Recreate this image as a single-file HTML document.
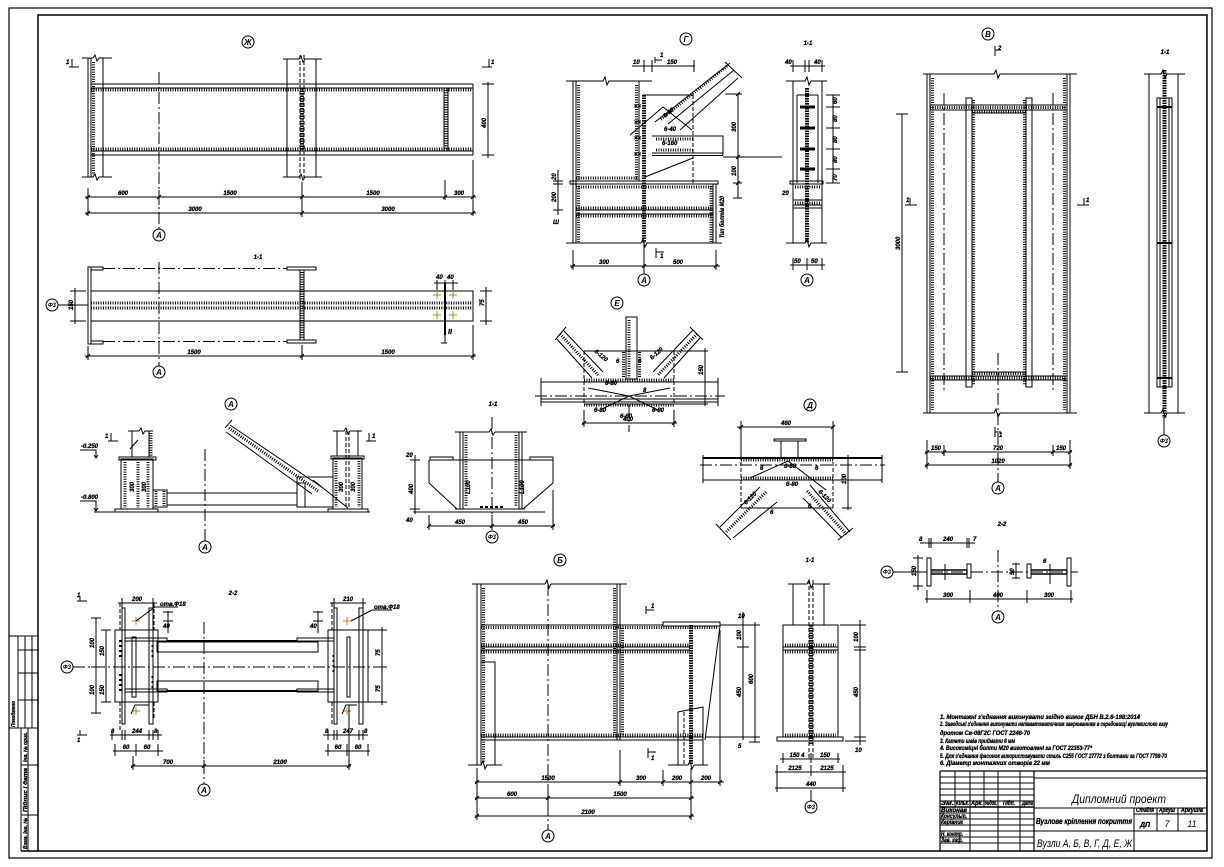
<!DOCTYPE html>
<html><head><meta charset="utf-8">
<style>
html,body{margin:0;padding:0;background:#fff}
body{width:1224px;height:867px;overflow:hidden}
svg{display:block}
text{font-family:"Liberation Sans","DejaVu Sans",sans-serif;font-weight:bold;font-style:italic;font-size:6px;fill:#000;stroke:#000;stroke-width:.3}
.c{font-size:8px;text-anchor:middle;stroke:none}
.m{text-anchor:middle}
.w{stroke-width:3;stroke-dasharray:1 1.4}
.hw{stroke-width:4;stroke-dasharray:1.6 .9}
.dd{stroke-dasharray:12 3 2 3}
.ds{stroke-dasharray:4 2}
.o{stroke:#c87d1e}
.n{font-weight:normal;stroke:none}
</style></head><body>
<svg width="1224" height="867" viewBox="0 0 1224 867" xmlns="http://www.w3.org/2000/svg" fill="none" stroke="#000" stroke-width="1">

<!-- FRAME -->
<rect x="9" y="8" width="1203" height="850" stroke-width="1.2"/>
<rect x="38" y="15" width="1169" height="836" stroke-width="1.5"/>
<path d="M21 851H38" stroke-width="1.5"/>

<!-- LEFT STAMP -->
<path d="M9 636H38M18 636V728M25 636V728M32 636V728M18 650H38M18 673H38M18 700H38M9 728H38M21 728V851M28 728V851M21 765H38M21 815H38"/>
<text transform="translate(15,727) rotate(-90)" textLength="26" lengthAdjust="spacingAndGlyphs" style="font-size:5px">Погоджено</text>
<text transform="translate(27,762) rotate(-90)" textLength="30" lengthAdjust="spacingAndGlyphs" style="font-size:5px">Інв. № ориг.</text>
<text transform="translate(27,812) rotate(-90)" textLength="44" lengthAdjust="spacingAndGlyphs" style="font-size:5px">Підпис і дата</text>
<text transform="translate(27,849) rotate(-90)" textLength="31" lengthAdjust="spacingAndGlyphs" style="font-size:5px">Взам. інв. №</text>

<!-- ===== VIEW Ж ===== -->
<circle cx="248" cy="42" r="6"/><text class="c" x="248" y="45">Ж</text>
<path d="M88 58V177M91 58V177M103 58V177M82 58H93l2-3 2 6 2-3H112M82 177H93l2-3 2 6 2-3H112"/>
<path class="w" d="M93.5 62V175"/>
<path d="M91 84H473M91 88H473M91 151H473M91 155H473M473 84V155"/>
<path class="w" d="M91 90H472M91 149H472"/>
<path d="M287 59V177M316 59V177M283 59H299l2-3 2 6 2-3H322M283 177H299l2-3 2 6 2-3H322"/>
<path class="ds" d="M300 55V181M304 55V181"/>
<path class="hw" d="M302 88V151"/>
<path d="M444 88V151M448 88V151"/>
<path class="w" d="M446 90V149"/>
<path d="M488 82V158M482 84H494M482 155H494"/>
<text transform="translate(486,128) rotate(-90)">400</text>
<path class="dd" d="M159 72V229"/>
<circle cx="159" cy="235" r="6"/><text class="c" x="159" y="238">А</text>
<path d="M85 197H476M85 213H476M88 188V216M473 160V216M302 182V217M445 180V200M159 190V205"/>
<path d="M86 199l4-4M157 199l4-4M300 199l4-4M443 199l4-4M471 199l4-4M86 215l4-4M300 215l4-4M471 215l4-4"/>
<text class="m" x="123" y="195">600</text><text class="m" x="230" y="195">1500</text><text class="m" x="373" y="195">1500</text><text class="m" x="459" y="195">300</text>
<text class="m" x="195" y="211">3000</text><text class="m" x="388" y="211">3000</text>
<path d="M69 67H79M72 59V67M482 67H492M489 59V67"/>
<text x="66" y="64">1</text><text x="491" y="64">1</text>

<!-- ===== 1-1 under Ж ===== -->
<text class="m" x="258" y="259">1-1</text>
<rect x="88" y="267" width="3" height="77"/>
<rect x="91" y="267" width="12" height="3"/><rect x="91" y="341" width="12" height="3"/>
<rect x="287" y="267" width="29" height="3"/><rect x="287" y="340" width="29" height="3"/>
<path d="M300 270V340M304 270V340"/>
<path class="w" d="M302 272V338"/>
<path class="dd" d="M103 268.5H287M103 341.5H287"/>
<rect x="91" y="291" width="382" height="30"/>
<path class="w" d="M91 303H473M91 308H473"/>
<path class="dd" d="M159 262V366"/>
<circle cx="159" cy="372" r="6"/><text class="c" x="159" y="375">А</text>
<path d="M85 356H476M88 346V360M473 325V360M302 345V360M86 358l4-4M300 358l4-4M471 358l4-4"/>
<text class="m" x="194" y="354">1500</text><text class="m" x="388" y="354">1500</text>
<circle cx="52" cy="305" r="6"/><text class="c" x="52" y="307" style="font-size:6px">Ф3</text>
<path d="M58 305H88M75 288V324M70 291H86M70 321H86"/>
<text transform="translate(73,310) rotate(-90)">150</text>
<path d="M445 283V335" stroke-width="2"/>
<path class="o" d="M433 295h8M437 291v8M449 295h8M453 291v8M433 315h8M437 311v8M449 315h8M453 311v8"/>
<path d="M434 283H458M437 280V290M445 280V290M453 280V290"/>
<text x="436" y="279">40</text><text x="447" y="279">40</text>
<path d="M480 291H492M480 321H492M486 287V325"/>
<text transform="translate(484,306) rotate(-90)">75</text>
<path d="M445 335V343M441 343h6"/><text x="448" y="334" style="font-size:7px">II</text>

<!-- ===== VIEW Г ===== -->
<circle cx="686" cy="39" r="6"/><text class="c" x="686" y="42">Г</text>
<path d="M573 81V243M576 81V243M639 81V181M566 81H603l2-4 2 8 2-4H652"/>
<path class="w" d="M578.5 85V180M636.5 85V180M576 178H639"/>
<rect x="570" y="181" width="148" height="3"/>
<path d="M713 184V243M716 184V243"/>
<path class="w" d="M578.5 186V242M711 186V242M576 187H713"/>
<path d="M576 210H713M576 214H713"/>
<path class="w" d="M576 208H713M576 216H713"/>
<path d="M566 243H641l2-4 2 8 2-4H722"/>
<path class="hw" d="M644 95V243"/>
<path d="M643 95H693M645 177L693 158"/>
<path class="ds" d="M693 95V183"/>
<path d="M652 136H723V155M652 153H723M652 155.5H723"/>
<path class="w" d="M656 139H693M656 150H693"/>
<path d="M723 157H782"/>
<path d="M730 63L655 122M738 78L680 130M725 62L742 78M734 70L668 124"/>
<path class="w" d="M727 66L660 120"/>
<path d="M630 135L663 107L692 130"/>
<path d="M738 94V198M725 94H742M733 157H742M733 183H742M733 198H742M736 96l4-4M736 159l4-4M736 185l4-4"/>
<text transform="translate(736,132) rotate(-90)">300</text><text transform="translate(736,176) rotate(-90)">100</text>
<path d="M632 66H695M644 60V72M652 60V72M694 60V72"/>
<text class="m" x="672" y="64">150</text><text x="633" y="64">10</text>
<path d="M655 57V63M655 60H662"/><text x="660" y="57">1</text>
<path d="M558 170V215M553 181H563M553 184H563M553 210H563"/>
<text transform="translate(556,202) rotate(-90)">200</text><text transform="translate(556,180) rotate(-90)">20</text>
<text x="553" y="224">Ш</text>
<text transform="translate(724,238) rotate(-90)" textLength="42" lengthAdjust="spacingAndGlyphs">Тип болтів М20</text>
<text transform="translate(665,118) rotate(-40)">6-40</text>
<text x="664" y="131">6-40</text><text x="662" y="145">6-160</text>
<text x="634" y="108">××</text><text x="634" y="124">××</text><text x="634" y="140">××</text><text x="634" y="156">××</text>
<path d="M570 266H720M573 250V270M644 250V270M716 250V270M571 268l4-4M642 268l4-4M714 268l4-4"/>
<text class="m" x="604" y="264">300</text><text class="m" x="678" y="264">500</text>
<path class="dd" d="M644 243V274"/>
<circle cx="644" cy="280" r="6"/><text class="c" x="644" y="283">А</text>
<path d="M656 248V258M656 252H664"/><text x="660" y="258">1</text>

<!-- ===== 1-1 of Г ===== -->
<text class="m" x="808" y="45">1-1</text>
<path d="M793 81V243M822 81V243M797 95V183M818 95V183M797 95H818M786 81H805l2-4 2 8 2-4H827M786 243H805l2-4 2 8 2-4H827"/>
<path class="hw" d="M807 88V243"/>
<path d="M800 107H815M800 128H815M800 149H815M800 169H815" stroke-width="3"/>
<rect x="790" y="181" width="33" height="3"/>
<path d="M793 200H822M793 205H822M793 208H822"/>
<path class="w" d="M795 187H820M795 203H820"/>
<path d="M790 66H825M793 60V72M805 60V72M809 60V72M822 60V72"/>
<text x="785" y="64">40</text><text x="814" y="64">40</text>
<path d="M833 95V183M826 95H840M826 107H840M826 128H840M826 149H840M826 169H840M826 183H840"/>
<text transform="translate(837,104) rotate(-90)">60</text><text transform="translate(837,122) rotate(-90)">80</text><text transform="translate(837,143) rotate(-90)">80</text><text transform="translate(837,163) rotate(-90)">80</text><text transform="translate(837,181) rotate(-90)">70</text>
<path d="M790 265H825M793 258V270M807 258V270M822 258V270"/>
<text x="794" y="263">50</text><text x="811" y="263">50</text>
<circle cx="807" cy="280" r="6"/><text class="c" x="807" y="283">А</text>
<text x="782" y="195">20</text>

<!-- ===== VIEW В ===== -->
<circle cx="988" cy="34" r="6"/><text class="c" x="988" y="37">В</text>
<path d="M995 46V56M995 50H1001"/><text x="998" y="50">2</text>
<path d="M927 74V413M930 74V413M1067 74V413M1070 74V413"/>
<path d="M923 74H994l2-4 2 8 2-4H1077M923 413H994l2-4 2 8 2-4H1077"/>
<path class="w" d="M932.5 78V410M1064.5 78V410"/>
<rect x="966" y="98" width="6" height="289"/><rect x="1026" y="98" width="6" height="289"/>
<path class="w" d="M973.5 100V385M1024.5 100V385"/>
<path d="M930 105H1067M930 110H1067M972 113H1026M972 372H1026M930 376H1067M930 380H1067"/>
<path class="w" d="M930 107.5H1067M930 378H1067M972 111.5H1026M972 373.5H1026"/>
<path class="dd" d="M944 93V390M1053 93V390"/>
<path d="M902 114V372M896 114H908M896 372H908"/>
<text transform="translate(900,250) rotate(-90)">3000</text>
<path d="M905 205H917M910 198V205M1077 205H1089M1084 198V205"/>
<text x="906" y="202">1</text><text x="1086" y="202">1</text>
<path class="dd" d="M998 353V482"/>
<circle cx="998" cy="488" r="6"/><text class="c" x="998" y="491">А</text>
<path d="M995 427V437M995 432H1001"/><text x="999" y="437">1</text>
<path d="M925 452H1072M925 465H1072M927 440V469M1070 440V469M944 445V456M1053 445V456"/>
<path d="M925 454l4-4M942 454l4-4M1051 454l4-4M1068 454l4-4M925 467l4-4M1068 467l4-4"/>
<text class="m" x="936" y="450">150</text><text class="m" x="998" y="450">720</text><text class="m" x="1061" y="450">150</text><text class="m" x="998" y="463">1020</text>

<!-- ===== 1-1 right ===== -->
<text class="m" x="1165" y="54">1-1</text>
<path d="M1149 74V413M1178 74V413M1144 74H1161l2-4 2 8 2-4H1185M1144 413H1161l2-4 2 8 2-4H1185"/>
<rect x="1157" y="98" width="15" height="289"/>
<path d="M1160 98V387M1169 98V387"/>
<path class="hw" d="M1164.5 70V418"/>
<path d="M1157 107H1172M1157 243H1172M1157 378H1172" stroke-width="2"/>
<path d="M1164 418V435"/>
<circle cx="1164" cy="441" r="6"/><text class="c" x="1164" y="443" style="font-size:6px">Ф3</text>

<!-- ===== VIEW А ===== -->
<circle cx="231" cy="404" r="6"/><text class="c" x="231" y="407">А</text>
<path d="M94 512H370"/>
<rect x="115" y="509" width="43" height="3"/>
<rect x="121" y="459" width="32" height="50"/>
<rect x="119" y="457" width="37" height="3"/>
<path d="M132 431V457M149 431V457M128 431H139l2-3 2 6 2-3H153"/>
<path class="w" d="M125 462V508M138 462V508M148 462V508M151 433V456"/>
<text transform="translate(134,492) rotate(-90)">300</text><text transform="translate(146,492) rotate(-90)">300</text>
<path d="M130 449l8-9"/>
<rect x="153" y="490" width="14" height="17"/>
<path class="w" d="M156 491V506M164 491V506"/>
<path d="M167 493H297M167 505H297"/>
<rect x="297" y="477" width="36" height="30"/>
<path d="M297 483H305V507"/>
<path d="M230 425L323 488M226 432L312 494M225 428L232 420"/>
<path class="w" d="M229 428L318 491"/>
<path d="M313 480L348 508"/>
<rect x="328" y="509" width="40" height="3"/>
<rect x="333" y="458" width="29" height="51"/>
<rect x="331" y="456" width="33" height="3"/>
<path d="M337 431V456M358 431V456M333 431H344l2-3 2 6 2-3H362"/>
<path class="ds" d="M346 431V509M349 431V509"/>
<path class="w" d="M336 461V507M359 461V507"/>
<text transform="translate(343,492) rotate(-90)">300</text><text transform="translate(355,492) rotate(-90)">300</text>
<path class="dd" d="M205 449V541"/>
<circle cx="205" cy="547" r="6"/><text class="c" x="205" y="550">А</text>
<path d="M80 450H96V458M94 455l2 3 2-3M80 501H96V511M94 508l2 3 2-3"/>
<text x="81" y="448">-0.250</text><text x="81" y="499">-0.800</text>
<path d="M108 441H118M111 433V441M366 441H376M369 433V441"/>
<text x="105" y="438">1</text><text x="372" y="438">1</text>

<!-- ===== 1-1 of А ===== -->
<text class="m" x="493" y="406">1-1</text>
<path d="M460 432V509M463 432V509M519 432V509M522 432V509M455 432H489l2-3 2 6 2-3H527"/>
<path class="w" d="M466 435V507M516 435V507"/>
<path d="M430 460H553"/>
<rect x="430" y="457" width="23" height="3"/><rect x="530" y="457" width="23" height="3"/>
<path d="M429 460V483L457 509M553 460V483L523 509M455 509H525M413 512H545"/>
<path d="M480 507h3M485 507h3M490 507h3M495 507h3M500 507h3" stroke-width="2"/>
<path class="dd" d="M492 417V531"/>
<circle cx="492" cy="537" r="6"/><text class="c" x="492" y="539" style="font-size:6px">Ф3</text>
<path d="M428 526H555M429 515V530M492 515V530M553 490V530M427 528l4-4M490 528l4-4M551 528l4-4"/>
<text class="m" x="460" y="524">450</text><text class="m" x="523" y="524">450</text>
<path d="M415 455V514M410 460H420M410 509H420"/>
<text x="406" y="457">20</text><text transform="translate(413,494) rotate(-90)">400</text><text x="406" y="522">40</text>
<text transform="translate(470,494) rotate(-90)">L100</text><text transform="translate(524,494) rotate(-90)">L100</text>

<!-- ===== VIEW Е ===== -->
<circle cx="617" cy="303" r="6"/><text class="c" x="617" y="306">Е</text>
<rect x="626" y="317" width="11" height="62"/>
<path class="w" d="M629 320V378M623.5 352V378M639.5 352V378"/>
<path d="M584 351H674M584 404H674"/>
<path class="ds" d="M584 351V404M674 351V404"/>
<path d="M541 382H718M541 399H718M541 402H718M541 378V406M718 378V406"/>
<path class="dd" d="M535 396H725"/>
<path class="w" d="M584 380H674M584 405H674"/>
<path d="M563 330L603 372M556 338L592 378M555 340L566 327"/>
<path class="w" d="M560 334L598 375"/>
<path d="M693 330L653 372M700 338L664 378M690 327L703 340"/>
<path class="w" d="M697 334L658 375"/>
<path d="M588 388L629 396L670 388M600 410L629 396L658 410"/>
<text transform="translate(594,352) rotate(40)">6-120</text>
<text transform="translate(652,360) rotate(-42)">6-120</text>
<text x="616" y="363">6</text><text x="638" y="363">6</text>
<text x="605" y="385">6-80</text><text x="594" y="412">6-80</text><text x="652" y="412">6-80</text>
<text x="620" y="418">6-60</text><text x="643" y="392">8</text>
<path d="M582 423H677M584 410V427M674 410V427M582 425l4-4M672 425l4-4"/>
<text class="m" x="628" y="421">400</text>
<path class="dd" d="M629 405V432"/>
<path d="M705 348V406M674 351H708M700 382H710M674 404H708"/>
<text transform="translate(703,375) rotate(-90)">150</text>

<!-- ===== VIEW Д ===== -->
<circle cx="810" cy="405" r="6"/><text class="c" x="810" y="408">Д</text>
<path d="M737 427H834M741 421V456M833 421V456M739 429l4-4M831 429l4-4"/>
<text class="m" x="786" y="425">460</text>
<rect x="774" y="439" width="32" height="2"/>
<path d="M781 441V457M798 441V457"/>
<path d="M703 458H882" stroke-width="2"/>
<path d="M703 480H882M703 455V483M882 455V483"/>
<path class="dd" d="M700 465H885"/>
<path class="ds" d="M741 456V508M833 456V508"/>
<path d="M741 508H833"/>
<path class="w" d="M741 460H833M741 478H833"/>
<path d="M750 478L788 461L826 490"/>
<path d="M760 487L720 527M777 502L733 538M716 524L731 540"/>
<path class="w" d="M766 492L726 532"/>
<path d="M810 485L850 532M803 498L842 538M838 540L853 528"/>
<path class="w" d="M807 491L847 535"/>
<text x="760" y="470">6</text><text x="815" y="470">6</text><text x="784" y="468">6-80</text><text x="786" y="486">6-80</text>
<text transform="translate(746,505) rotate(-45)">6-120</text><text transform="translate(818,492) rotate(45)">6-120</text>
<text x="770" y="514">6</text><text x="808" y="508">6</text>
<path d="M848 455V510M842 458H852M842 480H852M842 508H852"/>
<text transform="translate(846,484) rotate(-90)">100</text>

<!-- ===== VIEW Б ===== -->
<circle cx="560" cy="560" r="6"/><text class="c" x="560" y="563">Б</text>
<path d="M477 584V765M481 584V765M617 584V740M620 584V740"/>
<path d="M472 584H545l2-4 2 8 2-4H627"/>
<path class="w" d="M483.5 588V762M614.5 588V735M622.5 628V735"/>
<path d="M481 625H663"/>
<rect x="663" y="622" width="57" height="4"/>
<path class="w" d="M481 627.5H718"/>
<path d="M481 647H690M481 650H690"/>
<path class="w" d="M481 645H690M481 652H690"/>
<path d="M481 737H703M481 740H703"/>
<path class="w" d="M481 735H703"/>
<path class="hw" d="M691 625V765"/>
<path d="M720 626L705 740"/>
<path d="M481 662H495V765"/>
<path d="M678 765V712L703 707V765"/>
<path class="ds" d="M684 712V765"/>
<path d="M468 765H481l2-4 2 8 2-4H502M668 765H688l2-4 2 8 2-4H708"/>
<path class="dd" d="M548 584V830"/>
<circle cx="548" cy="836" r="6"/><text class="c" x="548" y="839">А</text>
<path d="M646 606V614M646 610H654"/><text x="651" y="608">1</text>
<path d="M648 748V758M648 752H656"/><text x="651" y="760">1</text>
<path d="M475 782H724M477 768V820M620 750V786M663 770V786M691 768V820M720 630V786"/>
<path d="M475 784l4-4M618 784l4-4M661 784l4-4M689 784l4-4M718 784l4-4"/>
<text class="m" x="548" y="780">1500</text><text class="m" x="641" y="780">300</text><text class="m" x="677" y="780">200</text><text class="m" x="706" y="780">200</text>
<path d="M475 798H694M548 790V806M475 800l4-4M546 800l4-4M689 800l4-4"/>
<text class="m" x="512" y="796">600</text><text class="m" x="620" y="796">1500</text>
<path d="M475 816H694M475 818l4-4M689 818l4-4"/>
<text class="m" x="588" y="814">2100</text>
<path d="M743 612V740M737 625H749M737 647H749M737 737H749M755 622V742M720 625H760M705 737H760M749 742H760"/>
<text transform="translate(741,640) rotate(-90)">100</text><text transform="translate(741,697) rotate(-90)">450</text><text transform="translate(753,684) rotate(-90)">600</text>
<text x="738" y="618">10</text><text x="738" y="748">5</text>

<!-- ===== 1-1 of Б ===== -->
<text class="m" x="810" y="562">1-1</text>
<path d="M793 584V625M824 584V625M788 584H807l2-4 2 8 2-4H830"/>
<path class="ds" d="M809 580V760M813 580V760"/>
<path class="hw" d="M811 625V745"/>
<rect x="783" y="625" width="55" height="112"/>
<rect x="777" y="737" width="66" height="4"/>
<path d="M783 647H838M783 650H838"/>
<path class="w" d="M785 645H836M785 652H836M785 735H836"/>
<path d="M780 759H840M783 753V763M811 753V763M838 753V763"/>
<text class="m" x="797" y="757">150 4</text><text class="m" x="825" y="757">150</text>
<path d="M775 772H846M777 765V792M811 765V776M843 765V792"/>
<text class="m" x="795" y="770">2125</text><text class="m" x="827" y="770">2125</text>
<path d="M775 788H846"/>
<text class="m" x="811" y="786">440</text>
<path d="M811 790V801"/>
<circle cx="811" cy="807" r="6"/><text class="c" x="811" y="809" style="font-size:6px">Ф3</text>
<path d="M860 620V745M854 625H866M854 647H866M854 650H866M854 737H866M854 741H866M840 625H854M845 741H854"/>
<text transform="translate(858,642) rotate(-90)">100</text><text transform="translate(858,697) rotate(-90)">450</text><text x="855" y="752">10</text>

<!-- ===== 2-2 LEFT ===== -->
<text class="m" x="233" y="595">2-2</text>
<rect x="115" y="630" width="43" height="72"/>
<rect x="122" y="608" width="3" height="116"/><rect x="149" y="608" width="4" height="116"/>
<rect x="132" y="637" width="4" height="60"/>
<rect x="125" y="638" width="42" height="3"/><rect x="125" y="689" width="42" height="3"/>
<path class="ds" d="M120 603V630M154 603V630M120 702V730M154 702V720"/>
<path d="M119 641h3M119 646h3M119 651h3M119 656h3M119 675h3M119 680h3M119 685h3M119 690h3" stroke-width="2"/>
<path d="M152 645v2M152 650v2M152 655v2M152 676v2M152 681v2M152 686v2"/>
<path class="o" d="M132 621h8M136 617v8M132 711h8M136 707v8"/>
<path d="M136 621L155 607H178M131 714L135 705H149"/>
<text x="160" y="606">отв.Ф18</text>
<path d="M167 641H297M167 691H297" stroke-width="2"/>
<rect x="157" y="642" width="161" height="10"/><rect x="157" y="681" width="161" height="10"/>
<rect x="328" y="630" width="40" height="72"/>
<rect x="334" y="608" width="3" height="116"/><rect x="359" y="608" width="4" height="116"/>
<rect x="347" y="637" width="3" height="60"/>
<rect x="297" y="638" width="37" height="3"/><rect x="297" y="689" width="37" height="3"/>
<path class="ds" d="M332 603V630M363 603V630M332 702V724M363 702V724"/>
<path d="M333 655v2M333 660v2M333 665v2M333 670v2M363 645v2M363 650v2M363 655v2M363 676v2M363 681v2M363 686v2"/>
<path class="o" d="M343 621h8M347 617v8M343 711h8M347 707v8"/>
<path d="M351 621L372 610H392M342 714L346 705H357"/>
<text x="374" y="609">отв.Ф18</text>
<path class="dd" d="M204 622V784"/>
<circle cx="204" cy="790" r="6"/><text class="c" x="204" y="793">А</text>
<path class="dd" d="M73 667H383"/>
<circle cx="67" cy="667" r="6"/><text class="c" x="67" y="669" style="font-size:6px">Ф3</text>
<path d="M131 766H351M133 756V770M204 760V772M349 705V770M131 768l4-4M202 768l4-4M347 768l4-4"/>
<text class="m" x="168" y="764">700</text><text class="m" x="280" y="764">2100</text>
<path d="M113 751H163M115 744V756M136 744V756M158 744V756M325 751H370M328 744V756M347 744V756M368 744V756"/>
<text class="m" x="126" y="749">60</text><text class="m" x="147" y="749">60</text><text class="m" x="338" y="749">60</text><text class="m" x="358" y="749">60</text>
<path d="M110 735H162M112 730V740M122 730V740M125 730V740M149 730V740M153 730V740M158 730V740M323 735H368M328 730V740M334 730V740M337 730V740M359 730V740M363 730V740"/>
<text x="111" y="733">8</text><text class="m" x="137" y="733">244</text><text x="154" y="733">8</text><text x="325" y="733">8</text><text class="m" x="348" y="733">247</text><text x="364" y="733">8</text>
<path d="M96 618V713M91 618H101M91 667H101M91 713H101M106 630V702M101 630H111M101 702H111"/>
<text transform="translate(94,648) rotate(-90)">100</text><text transform="translate(94,695) rotate(-90)">100</text>
<text transform="translate(104,656) rotate(-90)">150</text><text transform="translate(104,695) rotate(-90)">150</text>
<path d="M382 627V705M377 630H387M377 667H387M377 702H387M368 630H377M368 702H377"/>
<text transform="translate(380,656) rotate(-90)">75</text><text transform="translate(380,692) rotate(-90)">75</text>
<path d="M118 603H157M122 598V608M153 598V608M330 603H366M334 598V608M363 598V608"/>
<text class="m" x="137" y="601">200</text><text class="m" x="348" y="601">210</text>
<path d="M168 611V633M163 612H173M163 621H173M318 611V633M313 612H323M313 621H323"/>
<text x="163" y="628">40</text><text x="310" y="628">40</text>
<path d="M77 601H87M80 596V601M77 735H87M80 730V735"/>
<text x="77" y="597">1</text><text x="77" y="742">1</text>

<!-- ===== 2-2 RIGHT ===== -->
<text class="m" x="1002" y="526">2-2</text>
<circle cx="887" cy="572" r="6"/><text class="c" x="887" y="574" style="font-size:6px">Ф3</text>
<path d="M893 572H927"/>
<path class="dd" d="M931 572H1078"/>
<rect x="927" y="558" width="4" height="28"/><rect x="967" y="564" width="4" height="14"/>
<path d="M931 570H967M931 574H967" stroke-width="1.4"/>
<path d="M945 564V580"/>
<rect x="1027" y="564" width="4" height="14"/><rect x="1067" y="558" width="4" height="28"/>
<path d="M1031 570H1067M1031 574H1067" stroke-width="1.4"/>
<path d="M1050 564V584"/>
<text x="1043" y="563">6</text>
<path class="dd" d="M998 550V611"/>
<circle cx="998" cy="617" r="6"/><text class="c" x="998" y="620">А</text>
<path d="M925 599H1073M927 590V603M970 590V603M1027 590V603M1071 590V603"/>
<text class="m" x="948" y="597">300</text><text class="m" x="998" y="597">400</text><text class="m" x="1049" y="597">300</text>
<path d="M920 543H975M929 538V548M931 538V548M967 538V548M969 538V548"/>
<text x="919" y="541">8</text><text class="m" x="948" y="541">240</text><text x="973" y="541">7</text>
<path d="M918 555V590M913 558H923M913 586H923"/>
<text transform="translate(916,576) rotate(-90)">150</text>
<path d="M1016 563V579M1012 564H1020M1012 578H1020"/>
<text transform="translate(1014,575) rotate(-90)">90</text>

<!-- ===== NOTES ===== -->
<g>
<text x="940" y="719" textLength="200" lengthAdjust="spacingAndGlyphs">1. Монтажні з'єднання виконувати згідно вимог ДБН В.2.6-198:2014</text>
<text x="940" y="726" textLength="228" lengthAdjust="spacingAndGlyphs">2. Заводські з'єднання виконувати напівавтоматичним зварюванням в середовищі вуглекислого газу</text>
<text x="940" y="735" textLength="90" lengthAdjust="spacingAndGlyphs">дротом Св-08Г2С ГОСТ 2246-70</text>
<text x="940" y="743" textLength="75" lengthAdjust="spacingAndGlyphs">3. Катети швів приймати 6 мм</text>
<text x="940" y="750" textLength="152" lengthAdjust="spacingAndGlyphs">4. Високоміцні болти М20 виготовлені за ГОСТ 22353-77*</text>
<text x="940" y="758" textLength="227" lengthAdjust="spacingAndGlyphs">5. Для з'єднання фасонок використовувати сталь С255 ГОСТ 27772 з болтами за ГОСТ 7798-70</text>
<text x="940" y="765" textLength="110" lengthAdjust="spacingAndGlyphs">6. Діаметр монтажних отворів 22 мм</text>
</g>

<!-- ===== TITLE BLOCK ===== -->
<path d="M940 771H1207M940 771V851M1034 771V851" stroke-width="1.2"/>
<path d="M955 771V807M970 771V851M984 771V807M998 771V851M1020 771V851"/>
<path d="M940 777H1034M940 783H1034M940 789H1034M940 795H1034M940 801H1034M940 807H1034M940 813H1034M940 819H1034M940 825H1034M940 831H1034M940 837H1034M940 843H1034"/>
<path d="M940 807H1034" stroke-width="1.4"/>
<path d="M1034 778H1207M1034 808H1207M1134 814H1207M1034 831H1207M1134 808V851M1157 808V831M1178 808V831"/>
<g style="font-size:4.5px">
<text x="941" y="805" textLength="13" lengthAdjust="spacingAndGlyphs">Зм.</text>
<text x="956" y="805" textLength="13" lengthAdjust="spacingAndGlyphs">Кільк.</text>
<text x="971" y="805" textLength="12" lengthAdjust="spacingAndGlyphs">Арк.</text>
<text x="985" y="805" textLength="12" lengthAdjust="spacingAndGlyphs">№док.</text>
<text x="1003" y="805" textLength="12" lengthAdjust="spacingAndGlyphs">Підп.</text>
<text x="1022" y="805" textLength="11" lengthAdjust="spacingAndGlyphs">Дата</text>
<text x="941" y="812" textLength="26" lengthAdjust="spacingAndGlyphs">Виконав</text>
<text x="941" y="818" textLength="26" lengthAdjust="spacingAndGlyphs">Консульт.</text>
<text x="941" y="824" textLength="22" lengthAdjust="spacingAndGlyphs">Керівник</text>
<text x="941" y="836" textLength="22" lengthAdjust="spacingAndGlyphs">Н. контр.</text>
<text x="941" y="842" textLength="22" lengthAdjust="spacingAndGlyphs">Зав. каф.</text>
<text x="1136" y="812" textLength="18" lengthAdjust="spacingAndGlyphs">Стадія</text>
<text x="1159" y="812" textLength="16" lengthAdjust="spacingAndGlyphs">Аркуш</text>
<text x="1181" y="812" textLength="22" lengthAdjust="spacingAndGlyphs">Аркушів</text>
</g>
<text class="n" x="1072" y="803" textLength="94" lengthAdjust="spacingAndGlyphs" style="font-size:12px">Дипломний проект</text>
<text x="1036" y="824" textLength="96" lengthAdjust="spacingAndGlyphs" style="font-size:8px">Вузлове кріплення покриття</text>
<text class="n" x="1037" y="847" textLength="95" lengthAdjust="spacingAndGlyphs" style="font-size:11px">Вузли А, Б, В, Г, Д, Е, Ж</text>
<text class="m" x="1145" y="827" style="font-size:7px">ДП</text>
<text class="m n" x="1167" y="827" style="font-size:9px">7</text>
<text class="m n" x="1192" y="827" style="font-size:9px">11</text>

</svg>
</body></html>
